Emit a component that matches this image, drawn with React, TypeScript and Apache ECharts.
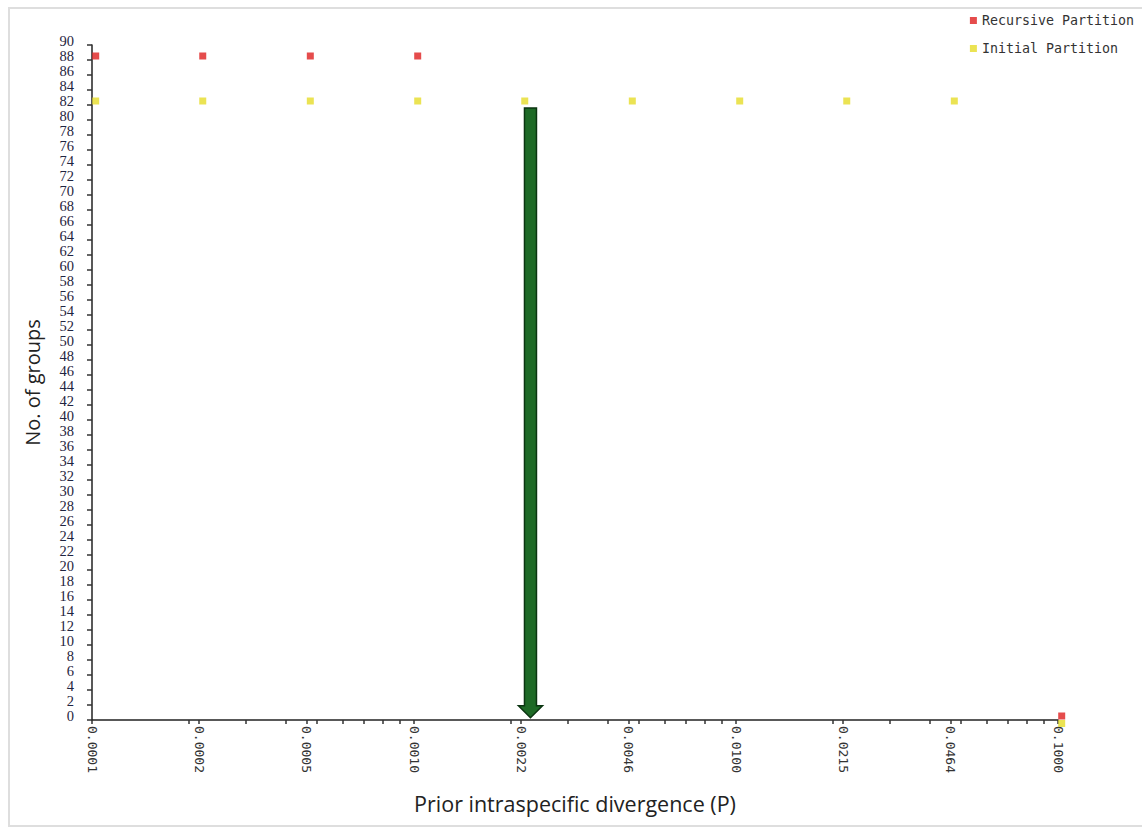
import React, { useEffect, useRef } from "react";
import * as echarts from "echarts";

// Prior intraspecific divergence values (x categories, log spaced)
const pValues = [0.0001, 0.000215, 0.000464, 0.001, 0.00215, 0.00464, 0.01, 0.0215, 0.0464, 0.1];
const xTickLabels = ["0.0001", "0.0002", "0.0005", "0.0010", "0.0022", "0.0046", "0.0100", "0.0215", "0.0464", "0.1000"];
// Number of groups per series (null = no point)
const recursiveValues = [88, 88, 88, 88, null, null, null, null, null, 0];
const initialValues = [82, 82, 82, 82, 82, 82, 82, 82, 82, -1];
// Arrow marking the chosen prior: [P, top value, bottom value]
const arrowData = [[0.0023, 81.6, 0.3]];
const minorMantissas = [2, 3, 4, 5, 6, 7, 8, 9];
const decades = [-4, -3, -2];

export default function App() {
  const ref = useRef<HTMLDivElement>(null);
  useEffect(() => {
    if (!ref.current) return;
    const chart = echarts.init(ref.current, null, { renderer: "svg" });
    const majorPos = pValues.map((p) => Math.log10(p));
    const minorPos: number[] = [];
    decades.forEach((d) => minorMantissas.forEach((m) => minorPos.push(Math.log10(m) + d)));
    const tickPos = majorPos.concat(minorPos);
    const labelFor = (v: number) => {
      let best = 0;
      majorPos.forEach((m, i) => {
        if (Math.abs(m - v) < Math.abs(majorPos[best] - v)) best = i;
      });
      return xTickLabels[best];
    };
    const toPts = (vals: (number | null)[]) =>
      vals.map((v, i) => (v == null ? null : [Math.log10(pValues[i]), v])).filter((d) => d != null);

    chart.setOption({
      animation: false,
      legend: {
        orient: "vertical",
        right: 3,
        top: 9,
        align: "left",
        itemWidth: 7,
        itemHeight: 7,
        itemGap: 15,
        icon: "rect",
        data: ["Recursive Partition", "Initial Partition"],
        textStyle: { fontFamily: "DejaVu Sans Mono", fontSize: 13.3, color: "#333" },
      },
      grid: { left: 92, right: 84, top: 45, bottom: 108, containLabel: false },
      xAxis: {
        type: "value",
        min: -4,
        max: -1,
        name: "Prior intraspecific divergence (P)",
        nameLocation: "middle",
        nameGap: 72,
        nameTextStyle: { fontFamily: "Open Sans", fontSize: 21.5, color: "#222" },
        splitLine: { show: false },
        axisLine: { show: true, onZero: false, lineStyle: { color: "#222", width: 1.5 } },
        axisTick: { show: true, length: 4, customValues: tickPos, lineStyle: { color: "#333", width: 1.5 } },
        axisLabel: {
          customValues: majorPos,
          rotate: -90,
          margin: 6,
          fontFamily: "DejaVu Sans Mono",
          fontSize: 13,
          color: "#333",
          formatter: (v: number) => labelFor(v),
        },
      },
      yAxis: {
        type: "value",
        min: 0,
        max: 90,
        interval: 2,
        name: "No. of groups",
        nameLocation: "middle",
        nameGap: 50,
        nameTextStyle: { fontFamily: "Open Sans", fontSize: 20, color: "#222" },
        splitLine: { show: false },
        axisLine: { show: true, lineStyle: { color: "#222", width: 1.5 } },
        axisTick: { show: true, length: 5, lineStyle: { color: "#333", width: 1.5 } },
        axisLabel: {
          margin: 18,
          fontFamily: "Liberation Serif",
          fontSize: 14.5,
          color: "#1f2440",
          verticalAlign: "bottom",
          lineHeight: 9,
        },
      },
      series: [
        {
          name: "Recursive Partition",
          type: "scatter",
          symbol: "rect",
          symbolSize: 7,
          symbolOffset: [3.7, -4],
          clip: false,
          itemStyle: { color: "#df1f1f" },
          data: toPts(recursiveValues),
          z: 3,
        },
        {
          name: "Initial Partition",
          type: "scatter",
          symbol: "rect",
          symbolSize: 7,
          symbolOffset: [3.7, -4],
          clip: false,
          itemStyle: { color: "#e6dc28" },
          data: toPts(initialValues),
          z: 3,
        },
        {
          name: "arrow",
          type: "custom",
          clip: false,
          data: arrowData.map((d) => [Math.log10(d[0]), d[1], d[2]]),
          renderItem: (params: any, api: any) => {
            const top = api.coord([api.value(0), api.value(1)]);
            const bot = api.coord([api.value(0), api.value(2)]);
            const cx = top[0];
            const yt = top[1];
            const yb = bot[1];
            const yh = yb - 12;
            return {
              type: "polygon",
              shape: {
                points: [
                  [cx - 6, yt],
                  [cx + 6, yt],
                  [cx + 6, yh],
                  [cx + 12, yh],
                  [cx, yb],
                  [cx - 12, yh],
                  [cx - 6, yh],
                ],
              },
              style: { fill: "#1e6a26", stroke: "#0b3511", lineWidth: 1.5 },
            };
          },
          z: 2,
        },
      ],
    });
    return () => chart.dispose();
  }, []);

  return (
    <div style={{ position: "fixed", left: 0, top: 0, width: 1142, height: 828, overflow: "hidden", background: "#fff" }}>
      <div
        style={{
          position: "absolute",
          left: 8,
          top: 7,
          width: 1150,
          height: 820,
          boxSizing: "border-box",
          border: "2px solid #dedede",
        }}
      />
      <div ref={ref} style={{ position: "absolute", left: 0, top: 0, width: 1142, height: 828 }} />
    </div>
  );
}
